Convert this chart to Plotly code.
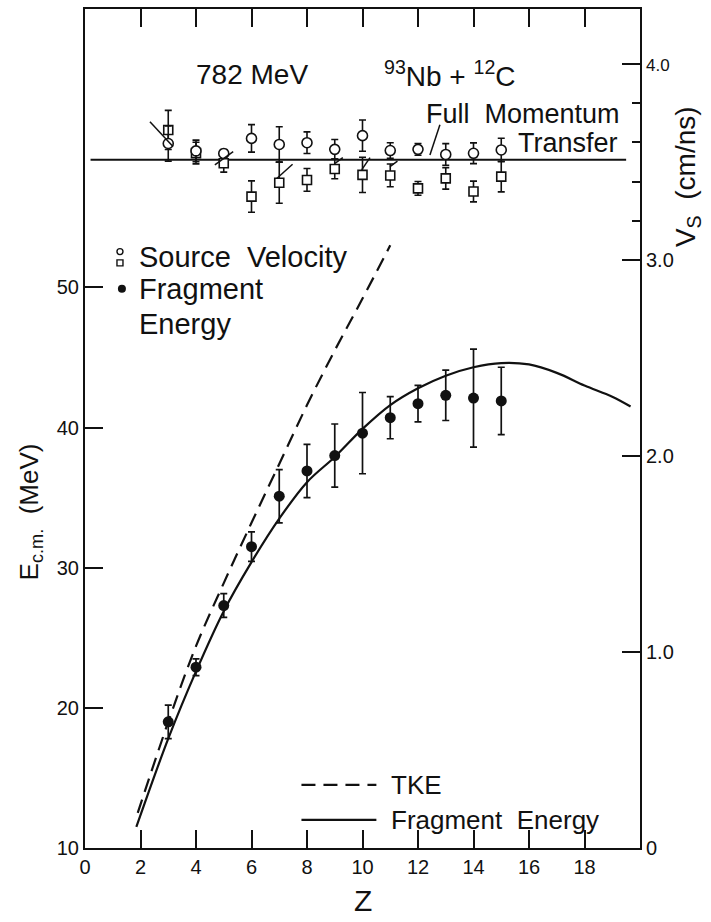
import plotly.graph_objects as go

# ---------------- data ----------------
Z_frag = [3, 4, 5, 6, 7, 8, 9, 10, 11, 12, 13, 14, 15]
E_frag = [19.0, 22.9, 27.3, 31.5, 35.1, 36.9, 38.0, 39.6, 40.7, 41.7, 42.3, 42.1, 41.9]
E_frag_err = [1.2, 0.6, 0.85, 1.05, 1.9, 1.9, 2.25, 2.9, 1.5, 1.3, 1.8, 3.5, 2.4]

Z_curve_frag = [1.85, 3, 4, 5, 6, 7, 8, 9, 10, 11, 12, 13, 14, 15, 16, 17, 18, 19, 19.66]
E_curve_frag = [11.5, 17.8, 22.6, 26.9, 30.4, 33.5, 36.1, 37.9, 39.9, 41.6, 42.8, 43.7, 44.3, 44.6, 44.5, 43.9, 43.0, 42.2, 41.5]

Z_curve_tke = [1.9, 3, 4, 5, 6, 7, 8, 9, 10, 11]
E_curve_tke = [12.5, 19.0, 24.4, 28.9, 33.2, 37.4, 41.6, 45.5, 49.2, 53.0]

Z_vs = [3, 4, 5, 6, 7, 8, 9, 10, 11, 12, 13, 14, 15]
V_circle = [3.594, 3.556, 3.543, 3.620, 3.589, 3.598, 3.564, 3.634, 3.558, 3.564, 3.538, 3.544, 3.561]
V_circle_err = [0.09, 0.055, 0.02, 0.07, 0.09, 0.055, 0.05, 0.08, 0.04, 0.03, 0.055, 0.053, 0.06]
V_square = [3.663, 3.545, 3.493, 3.323, 3.394, 3.408, 3.464, 3.434, 3.431, 3.365, 3.416, 3.349, 3.425]
V_square_err = [0.10, 0.055, 0.045, 0.08, 0.105, 0.058, 0.05, 0.09, 0.058, 0.035, 0.055, 0.053, 0.078]

Z_full = [0.2, 19.5]
V_full = [3.511, 3.511]

x_ticks = [0, 2, 4, 6, 8, 10, 12, 14, 16, 18]
yl_ticks = [10, 20, 30, 40, 50]
yr_ticks = [0, 1, 2, 3, 4]
yr_ticktext = ["0", "1.0", "2.0", "3.0", "<span style='font-size:17px'>4.0</span>"]
yr_minor = [3.2, 3.4, 3.6, 3.8]

# small leader strokes near the velocity points (Z0, V0, Z1, V1)
leaders = [
    (2.34, 3.705, 3.17, 3.578),
    (4.68, 3.485, 5.34, 3.552),
    (6.91, 3.415, 7.48, 3.488),
    (9.01, 3.493, 9.29, 3.522),
    (9.97, 3.459, 10.27, 3.522),
    (10.99, 3.476, 11.26, 3.504),
]

FONT = "Liberation Sans, Arial, sans-serif"
BLACK = "#111111"

fig = go.Figure()

# curves
fig.add_trace(go.Scatter(x=Z_curve_tke, y=E_curve_tke, mode="lines",
                         line=dict(color=BLACK, width=2.2, dash="14px,8px", shape="spline"),
                         showlegend=False, yaxis="y"))
fig.add_trace(go.Scatter(x=Z_curve_frag, y=E_curve_frag, mode="lines",
                         line=dict(color=BLACK, width=2.2, shape="spline"),
                         showlegend=False, yaxis="y"))

# fragment energy points
fig.add_trace(go.Scatter(x=Z_frag, y=E_frag, mode="markers",
                         marker=dict(symbol="circle", size=11, color=BLACK),
                         error_y=dict(type="data", array=E_frag_err, color=BLACK, thickness=1.7, width=3.5),
                         showlegend=False, yaxis="y"))

# full momentum transfer line
fig.add_trace(go.Scatter(x=Z_full, y=V_full, mode="lines",
                         line=dict(color=BLACK, width=1.8),
                         showlegend=False, yaxis="y2"))

# source velocities
fig.add_trace(go.Scatter(x=Z_vs, y=V_square, mode="markers",
                         marker=dict(symbol="square", size=9, color="white",
                                     line=dict(color=BLACK, width=1.6)),
                         error_y=dict(type="data", array=V_square_err, color=BLACK, thickness=1.6, width=3.5),
                         showlegend=False, yaxis="y2"))
fig.add_trace(go.Scatter(x=Z_vs, y=V_circle, mode="markers",
                         marker=dict(symbol="circle", size=10, color="white",
                                     line=dict(color=BLACK, width=1.6)),
                         error_y=dict(type="data", array=V_circle_err, color=BLACK, thickness=1.6, width=3.5),
                         showlegend=False, yaxis="y2"))

# minor tick axis (right side, top part)
fig.add_trace(go.Scatter(x=[None], y=[None], yaxis="y3", showlegend=False))

shapes = []
for z0, v0, z1, v1 in leaders:
    shapes.append(dict(type="line", xref="x", yref="y2", x0=z0, y0=v0, x1=z1, y1=v1,
                       line=dict(color=BLACK, width=1.5)))
# leader from "Full Momentum" label
shapes.append(dict(type="line", xref="x", yref="y2", x0=12.79, y0=3.69, x1=12.43, y1=3.535,
                   line=dict(color=BLACK, width=1.5)))
# lower legend samples
shapes.append(dict(type="line", xref="x", yref="y", x0=7.8, y0=14.5, x1=10.5, y1=14.5,
                   line=dict(color=BLACK, width=2.2, dash="14px,8px")))
shapes.append(dict(type="line", xref="x", yref="y", x0=7.8, y0=12.0, x1=10.5, y1=12.0,
                   line=dict(color=BLACK, width=2.2)))

ann = []
def txt(x, y, s, size=22, xanchor="left", xref="x", yref="y", angle=0):
    ann.append(dict(x=x, y=y, text=s, xref=xref, yref=yref, showarrow=False,
                    xanchor=xanchor, yanchor="middle", textangle=angle,
                    font=dict(family=FONT, size=size, color=BLACK)))

txt(6.0, 65.2, "782 MeV", size=28, xanchor="center")
txt(13.15, 65.2, "<sup>93</sup>Nb + <sup>12</sup>C", size=28, xanchor="center")
txt(19.35, 62.4, "Full  Momentum", size=27, xanchor="right")
txt(19.28, 60.3, "Transfer", size=27, xanchor="right")
txt(1.87, 52.2, "Source  Velocity", size=29)
txt(1.87, 49.9, "Fragment", size=29)
txt(1.87, 47.4, "Energy", size=29)
txt(10.95, 14.5, "TKE", size=26)
txt(10.95, 12.0, "Fragment  Energy", size=26)
txt(-0.099, 0.40, "E<sub>c.m.</sub>  (MeV)", size=26, xanchor="center", xref="paper", yref="paper", angle=-90)
txt(1.087, 0.80, "V<sub>S</sub>  (cm/ns)", size=28, xanchor="center", xref="paper", yref="paper", angle=-90)
txt(0.5, -0.062, "Z", size=30, xanchor="center", xref="paper", yref="paper")

# legend glyphs in upper-left key
fig.add_trace(go.Scatter(x=[1.26], y=[52.55], mode="markers", yaxis="y",
                         marker=dict(symbol="circle", size=6, color="white", line=dict(color=BLACK, width=1.4)),
                         showlegend=False))
fig.add_trace(go.Scatter(x=[1.26], y=[51.75], mode="markers", yaxis="y",
                         marker=dict(symbol="square", size=6, color="white", line=dict(color=BLACK, width=1.4)),
                         showlegend=False))
fig.add_trace(go.Scatter(x=[1.33], y=[49.9], mode="markers", yaxis="y",
                         marker=dict(symbol="circle", size=8, color=BLACK), showlegend=False))

tickfont = dict(family=FONT, size=20, color=BLACK)
fig.update_layout(
    width=711, height=922,
    margin=dict(l=85, r=71, t=7, b=74),
    paper_bgcolor="white", plot_bgcolor="white",
    showlegend=False,
    shapes=shapes, annotations=ann,
    xaxis=dict(range=[0, 20], tickvals=x_ticks, ticks="inside", ticklen=18, tickwidth=1.5,
               tickcolor=BLACK, showline=True, linecolor=BLACK, linewidth=2, mirror="ticks",
               showgrid=False, zeroline=False, tickfont=tickfont),
    yaxis=dict(range=[10, 69.86], tickvals=yl_ticks, ticks="inside", ticklen=18, tickwidth=1.5,
               tickcolor=BLACK, showline=True, linecolor=BLACK, linewidth=2,
               showgrid=False, zeroline=False, tickfont=tickfont),
    yaxis2=dict(range=[0, 4.28], overlaying="y", side="right", tickvals=yr_ticks, ticktext=yr_ticktext,
                ticks="inside", ticklen=18, tickwidth=1.5, tickcolor=BLACK, showline=True,
                linecolor=BLACK, linewidth=2, showgrid=False, zeroline=False, tickfont=tickfont),
    yaxis3=dict(range=[0, 4.28], overlaying="y", side="right", tickvals=yr_minor, showticklabels=False,
                ticks="inside", ticklen=8, tickwidth=1.5, tickcolor=BLACK, showline=False,
                showgrid=False, zeroline=False),
)

fig.write_html("out.html")
